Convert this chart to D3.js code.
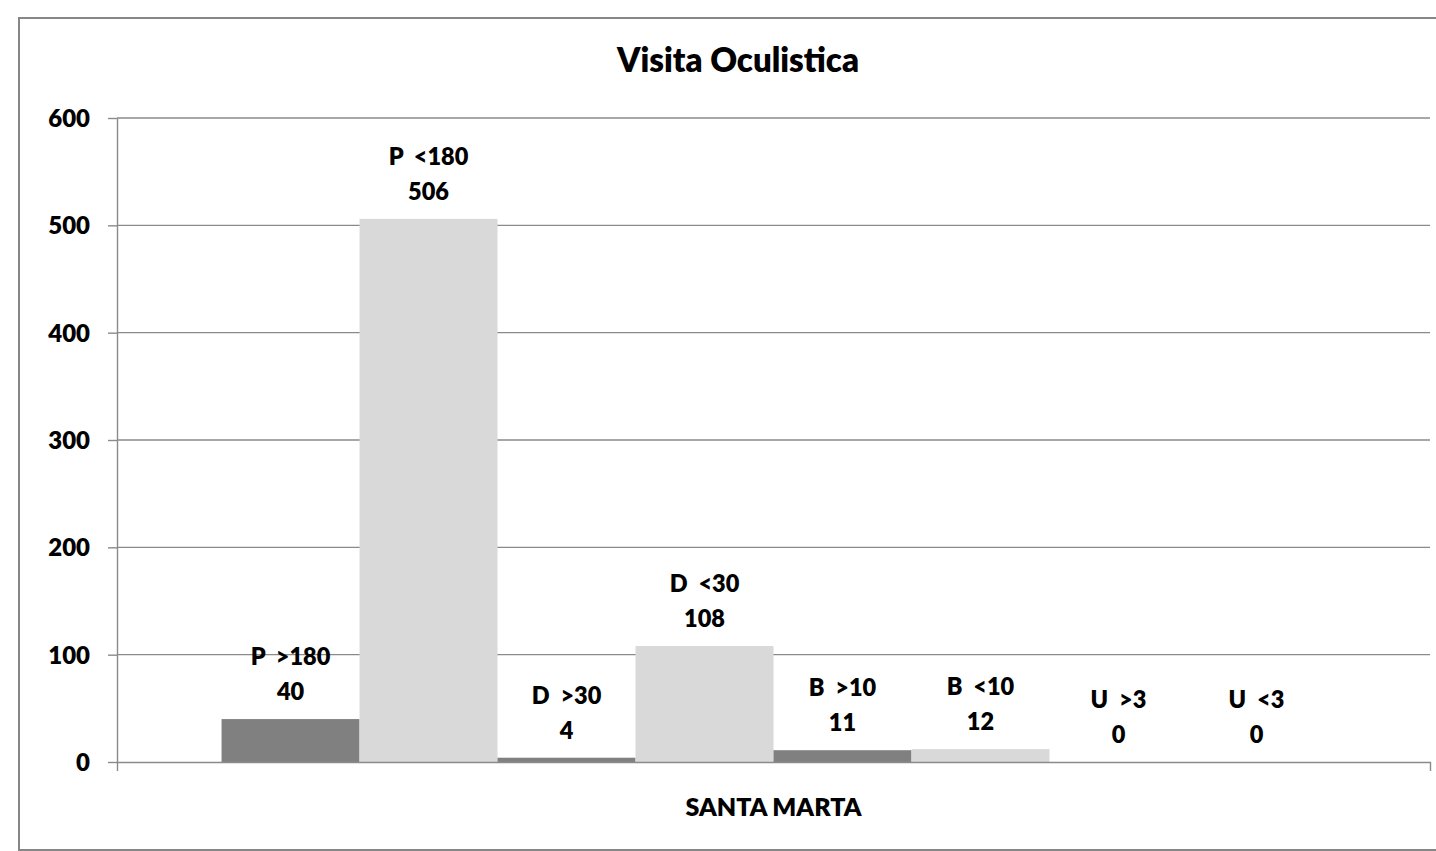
<!DOCTYPE html>
<html>
<head>
<meta charset="utf-8">
<script src="https://cdn.jsdelivr.net/npm/d3@7"></script>
<style>
	body { margin: 0; background: #fff; }
	svg text { font-family: Lato, 'Liberation Sans', sans-serif; font-weight: 800; fill: #000; }
</style>
</head>
<body>
<div class="graphic__chart"></div>
<script>
// data
const categories = ['SANTA MARTA']
const series = ['P  >180', 'P  <180', 'D  >30', 'D  <30', 'B  >10', 'B  <10', 'U  >3', 'U  <3']
const values = [40, 506, 4, 108, 11, 12, 0, 0]
const yTicks = [0, 100, 200, 300, 400, 500, 600]
const title = 'Visita Oculistica'

const WIDTH = 1436
const HEIGHT = 851
const plot = { left: 117, right: 1430, top: 118, bottom: 762 }
const GRID = '#8a8a8a'
const barColors = ['#808080', '#d9d9d9']

const svg = d3.select('.graphic__chart').append('svg')
	.attr('width', WIDTH)
	.attr('height', HEIGHT)

// chart area border (runs off the right edge like the original)
svg.append('rect')
	.attr('x', 19)
	.attr('y', 18)
	.attr('width', 1438)
	.attr('height', 832)
	.attr('fill', '#fff')
	.attr('stroke', '#868686')
	.attr('stroke-width', 2)

svg.append('text')
	.attr('x', 738)
	.attr('y', 72)
	.attr('text-anchor', 'middle')
	.style('font-size', '33px')
	.text(title)

// scales
const y = d3.scaleLinear().domain([0, 600]).range([plot.bottom, plot.top])
const x0 = d3.scaleBand().domain(categories).range([plot.left, plot.right])
	.paddingInner(0).paddingOuter(0.0947)
const x1 = d3.scaleBand().domain(series).range([0, x0.bandwidth()])

// gridlines
svg.append('g')
	.attr('class', 'grid')
	.selectAll('line')
	.data(yTicks.filter(d => d > 0))
	.enter().append('line')
		.attr('x1', plot.left)
		.attr('x2', plot.right)
		.attr('y1', d => y(d))
		.attr('y2', d => y(d))
		.attr('stroke', GRID)
		.attr('stroke-width', 1.4)

// bars
const g = svg.append('g')
	.attr('transform', `translate(${x0(categories[0])},0)`)

g.selectAll('.bar')
	.data(values)
	.enter().append('rect')
		.attr('class', 'bar')
		.attr('x', (d, i) => x1(series[i]))
		.attr('width', x1.bandwidth())
		.attr('y', d => y(d))
		.attr('height', d => y(0) - y(d))
		.attr('fill', (d, i) => barColors[i % 2])

// axes
const yAxis = svg.append('g')
	.attr('class', 'axis axis--y')
	.attr('transform', `translate(${plot.left},0)`)
	.call(d3.axisLeft(y).tickValues(yTicks).tickSizeInner(9).tickSizeOuter(0).tickPadding(18))

const xAxis = svg.append('g')
	.attr('class', 'axis axis--x')
	.attr('transform', `translate(0,${plot.bottom})`)
	.call(d3.axisBottom(x0).tickSizeInner(0).tickSizeOuter(9).tickPadding(36))

svg.selectAll('.axis path, .axis line')
	.attr('stroke', GRID)
	.attr('stroke-width', 1.4)

yAxis.selectAll('text')
	.style('font-size', '24px')
	.attr('dy', '0.36em')

xAxis.selectAll('text')
	.style('font-size', '25px')

// data labels
const labels = g.selectAll('.label')
	.data(values)
	.enter().append('g')
		.attr('class', 'label')
		.attr('transform', (d, i) => `translate(${x1(series[i]) + x1.bandwidth() / 2},${y(d)})`)

labels.append('text')
	.attr('y', -54)
	.attr('text-anchor', 'middle')
	.style('font-size', '23.5px')
	.style('white-space', 'pre')
	.text((d, i) => series[i])

labels.append('text')
	.attr('y', -19)
	.attr('text-anchor', 'middle')
	.style('font-size', '23.5px')
	.text(d => d)
</script>
</body>
</html>
